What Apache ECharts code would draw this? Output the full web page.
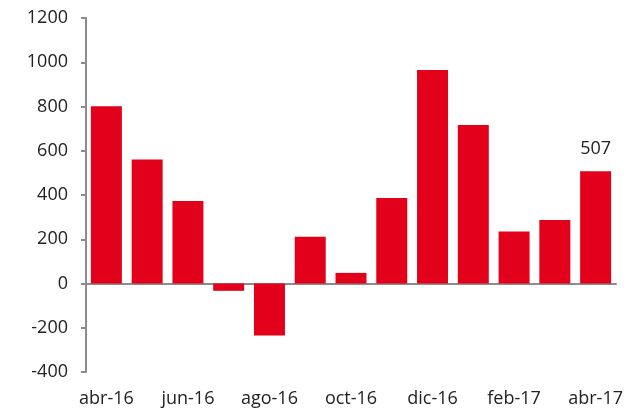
<!DOCTYPE html>
<html>
<head>
<meta charset="utf-8">
<script src="https://cdn.jsdelivr.net/npm/echarts@6/dist/echarts.min.js"></script>
<style>
    html, body { margin: 0; padding: 0; background: #fff; }
    #chart { width: 637px; height: 410px; }
</style>
</head>
<body>
<div id="chart"></div>
<script>
let months = ['abr-16', 'may-16', 'jun-16', 'jul-16', 'ago-16', 'sep-16', 'oct-16',
    'nov-16', 'dic-16', 'ene-17', 'feb-17', 'mar-17', 'abr-17']
let values = [801, 560, 373, -33, -235, 211, 48, 386, 965, 716, 235, 287, 507]
let labelled = ['abr-17']

let textColor = '#222'
let axisColor = '#8c8c8c'
let font = 'Open Sans'

let data = values.map(function (v, i) {
    return {
        value: v,
        label: { show: labelled.indexOf(months[i]) >= 0 }
    }
})

let chart = echarts.init(document.querySelector('#chart'))
let option = {
    animation: false,
    grid: { left: 86, right: 21, top: 18, bottom: 38 },
    xAxis: [
        {
            type: 'category',
            data: months,
            axisLine: { onZero: true, lineStyle: { color: axisColor, width: 2 } },
            axisTick: { interval: 1, length: 6, lineStyle: { color: axisColor, width: 2 } },
            axisLabel: { show: false }
        },
        {
            type: 'category',
            data: months,
            position: 'bottom',
            axisLine: { show: false, onZero: false },
            axisTick: { show: false },
            axisLabel: { interval: 1, margin: 18, color: textColor, fontSize: 18, fontFamily: font }
        }
    ],
    yAxis: {
        type: 'value',
        min: -400,
        max: 1200,
        interval: 200,
        splitLine: { show: false },
        axisLine: { show: true, lineStyle: { color: axisColor, width: 2 } },
        axisTick: { show: true, length: 5, lineStyle: { color: axisColor, width: 2 } },
        axisLabel: {
            margin: 18,
            color: textColor,
            fontSize: 18,
            fontFamily: font,
            formatter: function (v) { return String(v) }
        }
    },
    series: [
        {
            type: 'bar',
            xAxisIndex: 0,
            data: data,
            barCategoryGap: '24%',
            itemStyle: { color: '#e2001a' },
            label: {
                position: 'top',
                distance: 13,
                color: textColor,
                fontSize: 18,
                fontFamily: font
            }
        }
    ]
}
chart.setOption(option)
</script>
</body>
</html>
